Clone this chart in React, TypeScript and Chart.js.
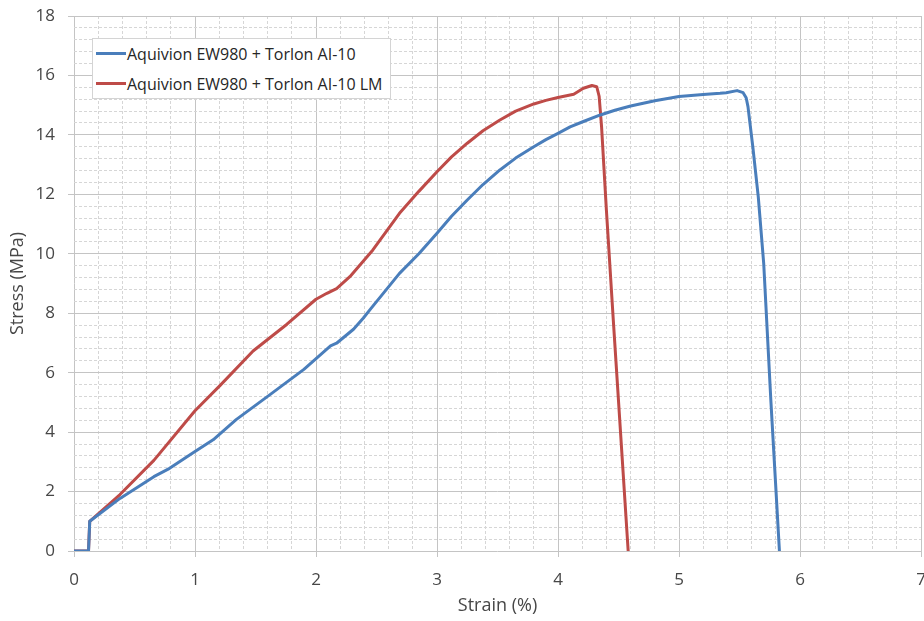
import React, { useEffect, useRef } from "react";
import { Chart, registerables } from "chart.js";

Chart.register(...registerables);

// ---- data ----
const seriesLabels = ["Aquivion EW980 + Torlon AI-10", "Aquivion EW980 + Torlon AI-10 LM"];
const seriesColors = ["#4A7EBB", "#BE4B48"];

const blueStrain = [0, 0.12, 0.13, 0.38, 0.66, 0.79, 1.0, 1.15, 1.34, 1.62, 1.9, 2.12, 2.17, 2.31, 2.39, 2.45, 2.69, 2.85, 3.0, 3.12, 3.25, 3.38, 3.52, 3.65, 3.8, 3.9, 4.0, 4.1, 4.21, 4.35, 4.47, 4.6, 4.8, 5.0, 5.2, 5.34, 5.39, 5.48, 5.53, 5.555, 5.57, 5.61, 5.655, 5.7, 5.76, 5.83];
const blueStress = [0, 0, 1.0, 1.77, 2.5, 2.78, 3.35, 3.74, 4.42, 5.26, 6.11, 6.9, 6.99, 7.46, 7.83, 8.14, 9.34, 10.0, 10.69, 11.26, 11.81, 12.33, 12.82, 13.22, 13.6, 13.84, 14.05, 14.27, 14.45, 14.67, 14.83, 14.97, 15.15, 15.29, 15.36, 15.4, 15.42, 15.49, 15.42, 15.25, 14.95, 13.6, 11.92, 9.68, 5.0, 0];

const redStrain = [0, 0.12, 0.13, 0.38, 0.66, 1.0, 1.21, 1.48, 1.76, 2.0, 2.09, 2.17, 2.28, 2.47, 2.69, 2.85, 3.0, 3.12, 3.25, 3.38, 3.52, 3.65, 3.8, 3.9, 4.0, 4.13, 4.21, 4.28, 4.32, 4.34, 4.36, 4.4, 4.457, 4.58];
const redStress = [0, 0, 1.0, 1.9, 3.05, 4.72, 5.58, 6.73, 7.63, 8.47, 8.67, 8.83, 9.23, 10.13, 11.36, 12.1, 12.76, 13.26, 13.72, 14.14, 14.5, 14.8, 15.04, 15.16, 15.26, 15.37, 15.57, 15.66, 15.62, 15.3, 14.28, 11.47, 7.77, 0];

const xTitle = "Strain (%)";
const yTitle = "Stress (MPa)";
const xMin = 0, xMax = 7, xMajor = 1, xMinor = 0.2;
const yMin = 0, yMax = 18, yMajor = 2, yMinor = 0.4;

const FONT = "'Open Sans', 'Liberation Sans', sans-serif";
const MAJOR = "#c4c4c4";
const MINOR = "#d6d6d6";
const TEXT = "#474747";

const isMajor = (v: number | undefined, step: number) =>
  v !== undefined && Math.abs(v / step - Math.round(v / step)) < 1e-6;

function App() {
  const ref = useRef<HTMLCanvasElement | null>(null);

  useEffect(() => {
    document.body.style.margin = "0";
    const canvas = ref.current;
    if (!canvas) return;
    const mk = (xs: number[], ys: number[]) => xs.map((x, i) => ({ x, y: ys[i] }));
    const gridFor = (step: number) => ({
      color: (c: any) => (isMajor(c.tick?.value, step) ? MAJOR : MINOR),
      tickColor: (c: any) => (isMajor(c.tick?.value, step) ? MAJOR : "rgba(0,0,0,0)"),
      tickLength: 6,
      lineWidth: 1,
    });
    const borderFor = (step: number) => ({
      display: false,
      dash: (c: any) => (isMajor(c.tick?.value, step) ? [] : [3, 2]),
    });
    const ds = (i: number, xs: number[], ys: number[]) => ({
      label: seriesLabels[i],
      data: mk(xs, ys),
      showLine: true,
      borderColor: seriesColors[i],
      backgroundColor: seriesColors[i],
      borderWidth: 3,
      pointRadius: 0,
      tension: 0,
      borderJoinStyle: "round",
    });
    const chart = new Chart(canvas, {
      type: "scatter",
      data: {
        datasets: [ds(0, blueStrain, blueStress), ds(1, redStrain, redStress)],
      },
      options: {
        animation: false,
        responsive: false,
        devicePixelRatio: 1,
        layout: { padding: { left: 0, top: 16, right: 11, bottom: 0 } },
        plugins: { legend: { display: false }, tooltip: { enabled: false } },
        scales: {
          x: {
            type: "linear",
            min: xMin,
            max: xMax,
            grid: gridFor(xMajor),
            border: borderFor(xMajor),
            ticks: {
              stepSize: xMinor,
              autoSkip: false,
              maxRotation: 0,
              padding: 13,
              color: TEXT,
              font: { family: FONT, size: 17 },
              callback: (v: any) => (isMajor(Number(v), xMajor) ? String(Math.round(Number(v))) : ""),
            },
            title: {
              display: true,
              text: xTitle,
              color: TEXT,
              font: { family: FONT, size: 18 },
              padding: { top: 0, bottom: 4 },
            },
            afterFit: (s: any) => {
              s.height = 70;
              s.paddingLeft = 0;
              s.paddingRight = 0;
            },
          },
          y: {
            type: "linear",
            min: yMin,
            max: yMax,
            grid: gridFor(yMajor),
            border: borderFor(yMajor),
            ticks: {
              stepSize: yMinor,
              autoSkip: false,
              padding: 13,
              color: TEXT,
              font: { family: FONT, size: 17 },
              callback: (v: any) => (isMajor(Number(v), yMajor) ? String(Math.round(Number(v))) : ""),
            },
            title: {
              display: true,
              text: yTitle,
              color: TEXT,
              font: { family: FONT, size: 18 },
              padding: { top: 7, bottom: 0 },
            },
            afterFit: (s: any) => {
              s.width = 74;
              s.paddingTop = 0;
              s.paddingBottom = 0;
            },
          },
        },
      },
    } as any);
    return () => chart.destroy();
  }, []);

  const legendRow = (i: number, top: number) => (
    <div key={i} style={{ position: "absolute", left: 0, top, height: 22, width: "100%" }}>
      <div
        style={{
          position: "absolute",
          left: 3,
          top: 9,
          width: 30,
          height: 3,
          background: seriesColors[i],
        }}
      />
      <div
        style={{
          position: "absolute",
          left: 34,
          top: 0,
          lineHeight: "22px",
          whiteSpace: "nowrap",
        }}
      >
        {seriesLabels[i]}
      </div>
    </div>
  );

  return (
    <div style={{ position: "relative", width: 924, height: 621, overflow: "hidden", background: "#fff" }}>
      <canvas ref={ref} width={932} height={621} style={{ display: "block", width: 932, height: 621 }} />
      <div
        style={{
          position: "absolute",
          left: 92,
          top: 38,
          width: 299,
          height: 61,
          boxSizing: "border-box",
          background: "#fff",
          border: "1px solid #d4d4d4",
          fontFamily: FONT,
          fontSize: 16,
          color: "#262626",
        }}
      >
        {legendRow(0, 4)}
        {legendRow(1, 34)}
      </div>
    </div>
  );
}

export default App;
